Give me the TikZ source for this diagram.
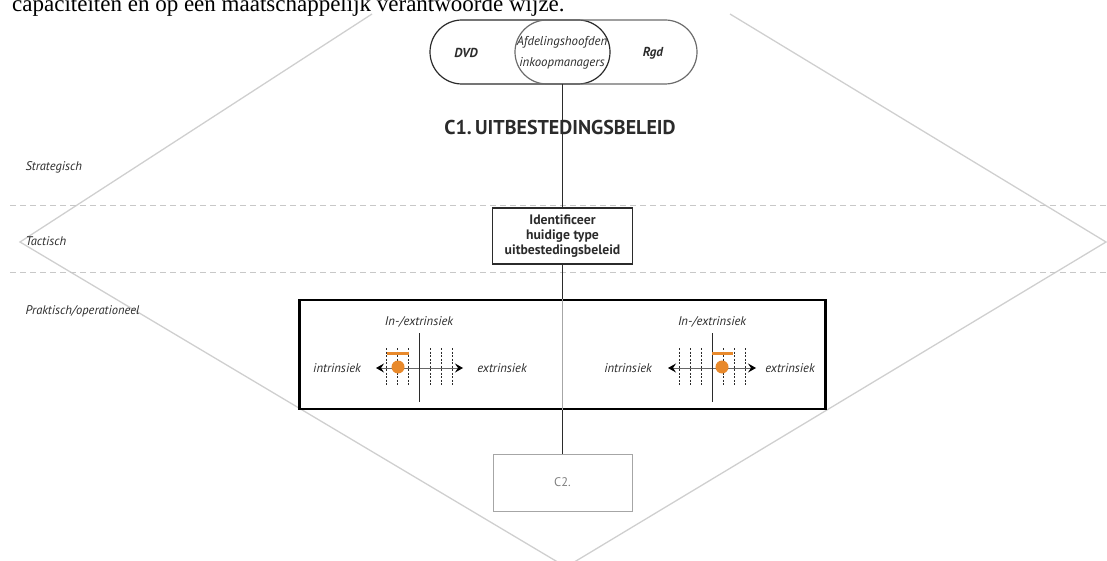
\documentclass[tikz,border=0pt]{standalone}
\usepackage{fontspec}
\setmainfont{Liberation Serif}
\newfontfamily\diag{PT Sans}
\usetikzlibrary{arrows.meta}
\definecolor{rim}{HTML}{CFCFCF}
\definecolor{lvl}{HTML}{C8C8C8}
\definecolor{ink}{HTML}{2B2B2B}
\definecolor{orng}{HTML}{E8892B}
\tikzset{
  levelline/.style={lvl, line width=0.9pt, dash pattern=on 6pt off 4pt},
  levellabel/.style={anchor=west, text=ink, font=\diag\itshape\fontsize{12.5}{14}\selectfont},
  actor/.style={draw, line width=1.2pt, minimum height=64pt, rounded corners=32pt, inner sep=0pt},
  actortext/.style={text=ink, font=\diag\bfseries\itshape\fontsize{13}{15}\selectfont},
  stepbox/.style={draw=ink, line width=1.2pt, minimum width=140pt, minimum height=56pt, align=center, inner sep=2pt, text=ink, font=\diag\bfseries\fontsize{13.7}{15}\selectfont},
  nextbox/.style={draw=gray!70, line width=1pt, minimum width=139pt, minimum height=57pt, text=gray, font=\diag\fontsize{12.5}{14}\selectfont},
  axislabel/.style={text=ink, font=\diag\itshape\fontsize{12.6}{14}\selectfont},
  link/.style={ink, line width=1pt},
  tick/.style={ink, line width=0.7pt, dash pattern=on 2pt off 1.5pt},
  axis/.style={gray!80!black, line width=1pt, {Stealth[length=8pt,width=9pt,inset=3pt,black]}-{Stealth[length=8pt,width=9pt,inset=3pt,black]}},
}
\begin{document}
\begin{tikzpicture}[x=1pt,y=-1pt]
\useasboundingbox (0,0) rectangle (1107,561);

% diamond outline
\draw[rim, line width=1.3pt] (372,14) -- (20,242) -- (566,567) -- (1106,242) -- (730,14);

% level separators
\draw[levelline] (10,205) -- (1107,205);
\draw[levelline] (10,272) -- (1107,272);

% level names
\node[levellabel] (strat) at (22,167) {Strategisch};
\node[levellabel] (tact) at (22,241) {Tactisch};
\node[levellabel] (prakt) at (22,311) {Praktisch/operationeel};

% running text above the figure
\node[anchor=base west, inner sep=0pt, font=\fontsize{23}{25}\selectfont] (intro) at (12,12)
  {capaciteiten en op een maatschappelijk verantwoorde wijze.};

% actors
\node[actor, draw=ink, minimum width=180pt] (dvd) at (520,52) {};
\node[actor, draw=gray!85!black, minimum width=182pt] (rgd) at (606,52) {};
\node[actortext] (dvdt) at (466,53) {DVD};
\node[actortext] (rgdt) at (653,53) {Rgd};
\node[align=center, text=ink, font=\diag\itshape\fontsize{12.8}{20.5}\selectfont] (afd) at (562,53)
  {Afdelingshoofden\\inkoopmanagers};
\coordinate (top) at (562.5,84);

% title
\node[text=ink, font=\diag\bfseries\fontsize{20}{23}\selectfont] (title) at (560,128) {C1.\,UITBESTEDINGSBELEID};

% steps
\node[stepbox] (ident) at (562.5,236) {Identificeer\\huidige type\\uitbestedingsbeleid};
\node[draw=black, line width=2.6pt, minimum width=526pt, minimum height=109pt] (panel) at (562.5,354.5) {};
\node[nextbox] (c2) at (562.5,482.5) {C2.};

% connectors
\draw[link] (top) -- (ident.north);
\draw[link] (ident.south) -- (panel.north);
\draw[gray!70, line width=1pt] (panel.north) -- (panel.south);
\draw[link] (panel.south) -- (c2.north);

% left scale
\begin{scope}[shift={(419,0)}]
  \node[axislabel] (l-head) at (0,322) {In-/extrinsiek};
  \node[axislabel] (l-in) at (-82,368) {intrinsiek};
  \node[axislabel] (l-ex) at (83,368) {extrinsiek};
  \foreach \d in {-33,-22,-11,11,22,33} \draw[tick] (\d,348) -- (\d,385);
  \draw[axis] (-43,368) -- (44,368);
  \draw[ink, line width=1pt] (0,333) -- (0,402);
  \draw[orng, line width=3pt] (-32,353) -- (-10,353);
  \fill[orng] (-21,367) circle (6.5);
\end{scope}

% right scale
\begin{scope}[shift={(712,0)}]
  \node[axislabel] (r-head) at (0,322) {In-/extrinsiek};
  \node[axislabel] (r-in) at (-84,368) {intrinsiek};
  \node[axislabel] (r-ex) at (78,368) {extrinsiek};
  \foreach \d in {-33,-22,-11,11,22,33} \draw[tick] (\d,348) -- (\d,385);
  \draw[axis] (-44,368) -- (44,368);
  \draw[ink, line width=1pt] (0,333) -- (0,402);
  \draw[orng, line width=3pt] (0,353) -- (21,353);
  \fill[orng] (10,367) circle (6.5);
\end{scope}
\end{tikzpicture}
\end{document}
